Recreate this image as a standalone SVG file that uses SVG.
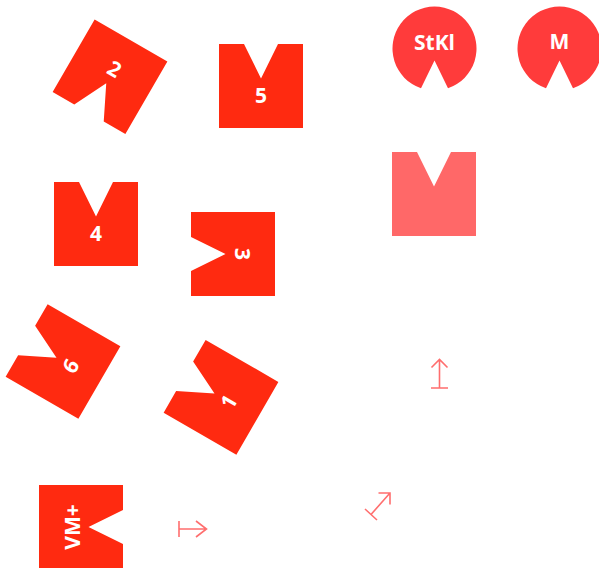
<svg xmlns="http://www.w3.org/2000/svg" xmlns:xlink="http://www.w3.org/1999/xlink" width="599" height="568" viewBox="0 0 599 568">
  <style>
    .red { fill: #FF2A10; }
    .circ { fill: #FF3B3B; }
    .pink { fill: #FF6868; }
    .lbl { fill: #FFFFFF; font-family: "Open Sans", "Liberation Sans", sans-serif; font-weight: 700; font-size: 21px; text-anchor: middle; }
    .arr { fill: none; stroke: #FF6E6E; stroke-width: 1.6; stroke-linecap: butt; stroke-linejoin: miter; }
  </style>
  <defs>
    <path id="notch-sq" d="M-42,-42 L-17,-42 L0,-7.5 L17,-42 L42,-42 L42,42 L-42,42 Z"/>
    <path id="notch-circ" d="M13.5,39.8 A42,42 0 1 0 -13.5,39.8 L0,12 Z"/>
  </defs>

  <g id="node-2" transform="translate(110,76.75) rotate(210)">
    <use xlink:href="#notch-sq" class="red"/>
    <text class="lbl" transform="translate(0,9) rotate(180)" y="7.5">2</text>
  </g>
  <g id="node-5" transform="translate(261,86)">
    <use xlink:href="#notch-sq" class="red"/>
    <text class="lbl" y="16.5">5</text>
  </g>
  <g id="node-4" transform="translate(96,224)">
    <use xlink:href="#notch-sq" class="red"/>
    <text class="lbl" y="16.5">4</text>
  </g>
  <g id="node-3" transform="translate(233,254) rotate(-90)">
    <use xlink:href="#notch-sq" class="red"/>
    <text class="lbl" transform="translate(0,9) rotate(180)" y="7.5">3</text>
  </g>
  <g id="node-6" transform="translate(63,361.5) rotate(-60)">
    <use xlink:href="#notch-sq" class="red"/>
    <text class="lbl" y="16.5">6</text>
  </g>
  <g id="node-1" transform="translate(221,397.3) rotate(-60)">
    <use xlink:href="#notch-sq" class="red"/>
    <text class="lbl" y="16.5">1</text>
  </g>
  <g id="node-vm" transform="translate(81,527) rotate(90)">
    <use xlink:href="#notch-sq" class="red"/>
    <text class="lbl" transform="translate(0,9) rotate(180)" y="7.5">VM+</text>
  </g>
  <g id="node-pink" transform="translate(434,194)">
    <use xlink:href="#notch-sq" class="pink"/>
  </g>
  <g id="node-stkl" transform="translate(434.5,48.5)">
    <use xlink:href="#notch-circ" class="circ"/>
    <text class="lbl" y="1.5">StKl</text>
  </g>
  <g id="node-m" transform="translate(559.5,48.5)">
    <use xlink:href="#notch-circ" class="circ"/>
    <text class="lbl" y="0">M</text>
  </g>

  <g id="connectors">
    <g id="arrow-up">
      <path class="arr" d="M439.5,360 L439.5,388 M431,388 L448,388 M431.5,367.5 L439.5,359.5 L447.5,367.5"/>
    </g>
    <g id="arrow-diag">
      <path class="arr" d="M365,509 L377,520 M371,514.5 L390,493 M378.5,493 L390,493 L390,504.5"/>
    </g>
    <g id="arrow-right">
      <path class="arr" d="M179,521 L179,537 M179,529 L206,529 M196,521 L206.5,529 L196,537"/>
    </g>
  </g>
</svg>
